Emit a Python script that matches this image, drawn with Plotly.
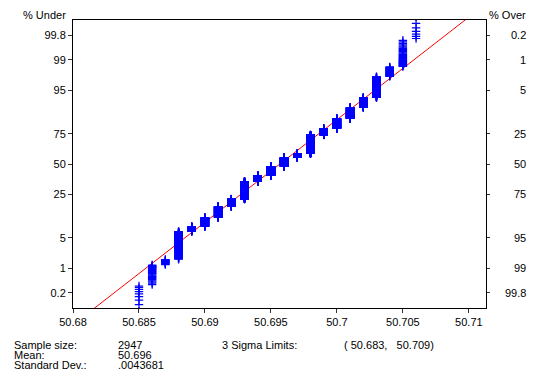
import plotly.graph_objects as go
from statistics import NormalDist

# ---- data ----
values = [50.685, 50.686, 50.687, 50.688, 50.689, 50.690, 50.691, 50.692,
          50.693, 50.694, 50.695, 50.696, 50.697, 50.698, 50.699, 50.700,
          50.701, 50.702, 50.703, 50.704, 50.705, 50.706]
counts = [10, 26, 13, 145, 46, 102, 163, 135, 386, 149, 233, 236, 103, 438,
          131, 174, 152, 102, 128, 31, 36, 8]

x_tick_vals = [50.68, 50.685, 50.69, 50.695, 50.70, 50.705, 50.71]
x_tick_text = ["50.68", "50.685", "50.69", "50.695", "50.7", "50.705", "50.71"]
pct_under = [0.2, 1, 5, 25, 50, 75, 95, 99, 99.8]
pct_under_text = ["0.2", "1", "5", "25", "50", "75", "95", "99", "99.8"]
pct_over_text = ["99.8", "99", "95", "75", "50", "25", "5", "1", "0.2"]

sample_size_txt = "2947"
mean_txt = "50.696"
sd_txt = ".0043681"
limits_txt = "( 50.683,   50.709)"
fit_mean = 50.69568
fit_sd = 0.0043681

# ---- derived plotting positions ----
nd = NormalDist()
n = sum(counts)
xs, zs = [], []
rank = 0
for v, c in zip(values, counts):
    for _ in range(c):
        rank += 1
        xs.append(v)
        zs.append(nd.inv_cdf((rank - 0.5) / n))

tick_z = [nd.inv_cdf(p / 100.0) for p in pct_under]
line_z = [-4.0, 4.0]
line_x = [fit_mean + z * fit_sd for z in line_z]

FONT = "Liberation Sans, Arial, sans-serif"
YR = [-3.214, 3.214]

fig = go.Figure()
fig.add_trace(go.Scatter(x=line_x, y=line_z, mode="lines",
                         line=dict(color="#ff0000", width=1),
                         hoverinfo="skip", showlegend=False))
fig.add_trace(go.Scatter(x=xs, y=zs, mode="markers",
                         marker=dict(symbol="cross-thin", size=6,
                                     line=dict(color="#0000ff", width=1.2),
                                     color="#0000ff"),
                         hoverinfo="skip", showlegend=False))
# invisible trace to activate right axis
fig.add_trace(go.Scatter(x=[values[0]], y=[0], yaxis="y2", mode="markers",
                         marker=dict(opacity=0), hoverinfo="skip",
                         showlegend=False))

fig.update_layout(
    width=535, height=374,
    margin=dict(l=73, r=49, t=20, b=66),
    paper_bgcolor="white", plot_bgcolor="white",
    font=dict(family=FONT, size=11, color="black"),
    xaxis=dict(range=[50.68, 50.7113], tickvals=x_tick_vals,
               ticktext=x_tick_text, ticks="outside", ticklen=4,
               tickcolor="#333", showgrid=False, zeroline=False,
               showline=True, linecolor="black", linewidth=1, mirror=True,
               tickfont=dict(size=11)),
    yaxis=dict(range=YR, tickvals=tick_z, ticktext=pct_under_text,
               ticks="outside", ticklen=4, tickcolor="#333",
               showgrid=False, zeroline=False, showline=True,
               linecolor="black", linewidth=1, mirror=True,
               tickfont=dict(size=11)),
    yaxis2=dict(range=YR, overlaying="y", side="right", tickvals=tick_z,
                showticklabels=False, ticks="outside", ticklen=3,
                tickcolor="#333", showgrid=False, zeroline=False,
                showline=False),
)

plot_w = 535 - 73 - 49


def px_x(px):
    return (px - 73) / plot_w


def px_y(py):
    return (374 - 66 - py) / (374 - 20 - 66)


ann = []
for z, t in zip(tick_z, pct_over_text):
    ann.append(dict(x=px_x(528), xref="paper", y=z, yref="y", text=t,
                    showarrow=False, xanchor="right", yanchor="middle",
                    font=dict(size=11)))

ann.append(dict(x=px_x(68), y=px_y(15), xref="paper", yref="paper",
                text="% Under", showarrow=False, xanchor="right",
                yanchor="middle", font=dict(size=11)))
ann.append(dict(x=px_x(528), y=px_y(15), xref="paper", yref="paper",
                text="% Over", showarrow=False, xanchor="right",
                yanchor="middle", font=dict(size=11)))
rows = [("Sample size:", sample_size_txt, 345),
        ("Mean:", mean_txt, 355),
        ("Standard Dev.:", sd_txt, 365)]
for lab, val, py in rows:
    ann.append(dict(x=px_x(12), y=px_y(py), xref="paper", yref="paper",
                    text=lab, showarrow=False, xanchor="left",
                    yanchor="middle", font=dict(size=11)))
    ann.append(dict(x=px_x(116), y=px_y(py), xref="paper", yref="paper",
                    text=val, showarrow=False, xanchor="left",
                    yanchor="middle", font=dict(size=11)))
ann.append(dict(x=px_x(220), y=px_y(345), xref="paper", yref="paper",
                text="3 Sigma Limits:", showarrow=False, xanchor="left",
                yanchor="middle", font=dict(size=11)))
ann.append(dict(x=px_x(342), y=px_y(345), xref="paper", yref="paper",
                text=limits_txt, showarrow=False, xanchor="left",
                yanchor="middle", font=dict(size=11)))
fig.update_layout(annotations=ann)

fig.write_html("out.html", config={"displayModeBar": False, "staticPlot": True})
